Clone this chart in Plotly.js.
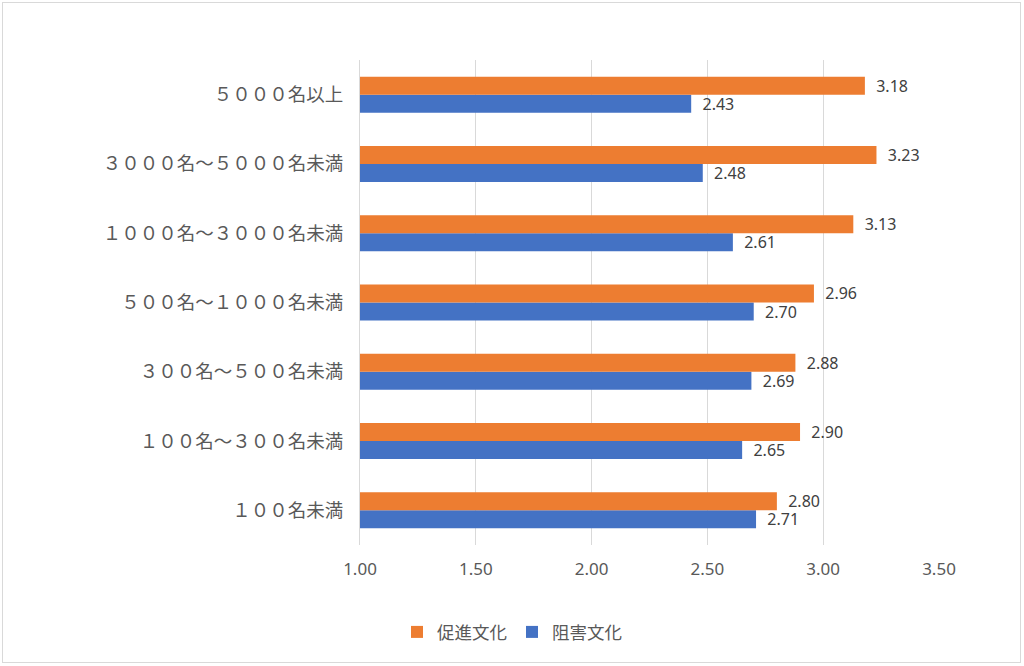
<!DOCTYPE html>
<html><head><meta charset="utf-8">
<script src="https://cdn.plot.ly/plotly-3.0.1.min.js"></script>
<style>
html,body{margin:0;padding:0;background:#fff;}
#wrap{position:relative;width:1024px;height:666px;}
#chart{position:absolute;left:0;top:0;width:1024px;height:666px;}
#frame{position:absolute;left:2px;top:2px;width:1017px;height:659px;border:1px solid #d9d9d9;pointer-events:none;}
</style></head>
<body>
<div id="wrap"><div id="chart"></div><div id="frame"></div></div>
<script>
const categories = ["１００名未満","１００名～３００名未満","３００名～５００名未満","５００名～１０００名未満","１０００名～３０００名未満","３０００名～５０００名未満","５０００名以上"];
const promote = [2.80, 2.90, 2.88, 2.96, 3.13, 3.23, 3.18];
const hinder = [2.71, 2.65, 2.69, 2.70, 2.61, 2.48, 2.43];
const seriesNames = ["促進文化","阻害文化"];
const xTicks = [1.0, 1.5, 2.0, 2.5, 3.0, 3.5];

const font = "Noto Sans CJK JP, Noto Sans, sans-serif";
const numFont = "Noto Sans, sans-serif";
const traces = [
  {type:'bar', orientation:'h', name:seriesNames[1], y:categories, x:hinder,
   marker:{color:'#4472c4'}, text:hinder.map(v=>'  '+v.toFixed(2)), textposition:'outside',
   constraintext:'none', textfont:{size:16,color:'#404040',family:numFont}, cliponaxis:false},
  {type:'bar', orientation:'h', name:seriesNames[0], y:categories, x:promote,
   marker:{color:'#ed7d31'}, text:promote.map(v=>'  '+v.toFixed(2)), textposition:'outside',
   constraintext:'none', textfont:{size:16,color:'#404040',family:numFont}, cliponaxis:false}
];
const layout = {
  width:1024, height:666,
  margin:{l:360, r:85, t:60, b:121},
  paper_bgcolor:'#fff', plot_bgcolor:'#fff',
  barmode:'group', bargap:0.48, bargroupgap:0,
  font:{family:font, color:'#595959'},
  xaxis:{range:[1,3.5], tickvals:xTicks, ticktext:xTicks.map(v=>v.toFixed(2)),
    showgrid:true, gridcolor:'#d9d9d9', gridwidth:1, zeroline:false, showline:false,
    ticks:'', tickfont:{size:17,color:'#595959',family:numFont}, ticklabelstandoff:12, fixedrange:true},
  yaxis:{type:'category', categoryorder:'array', categoryarray:categories,
    showgrid:false, zeroline:false, showline:true, linecolor:'#d9d9d9', linewidth:1,
    ticks:'', tickfont:{size:18.5,color:'#595959'}, ticklabelstandoff:12},
  showlegend:true,
  legend:{orientation:'h', traceorder:'reversed', xref:'container', yref:'container',
    x:0.5, xanchor:'center', y:0.051, yanchor:'middle',
    font:{size:17.5,color:'#595959'}, itemwidth:30},
};
Plotly.newPlot('chart', traces, layout, {displayModeBar:false, staticPlot:true});
</script>
</body></html>
